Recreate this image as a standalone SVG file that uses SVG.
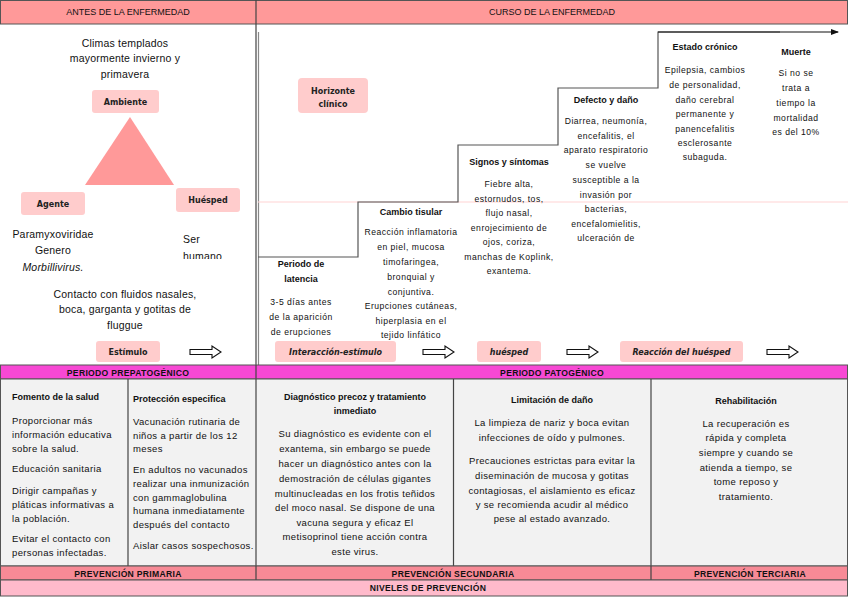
<svg xmlns="http://www.w3.org/2000/svg" width="848" height="599" viewBox="0 0 848 599">
<style>
text{font-family:"Liberation Sans",Arial,sans-serif;fill:#111;}
.hd{font-size:9px;text-anchor:middle;}
.t{font-size:10.5px;text-anchor:middle;letter-spacing:0.2px;}
.s{font-size:8.6px;text-anchor:middle;letter-spacing:0.5px;}
.b{font-size:9px;font-weight:bold;text-anchor:middle;}
.lb{font-family:"DejaVu Sans",Verdana,sans-serif;font-size:8px;font-weight:bold;text-anchor:middle;fill:#222;}
.c{font-size:9.5px;text-anchor:middle;letter-spacing:0.35px;}
.cl{font-size:9.5px;letter-spacing:0.35px;}
.cb{font-size:9px;font-weight:bold;}
.bar{font-size:8.6px;font-weight:bold;text-anchor:middle;letter-spacing:0.3px;}
.box{fill:#FFCCCC;}
.blk{fill:#fff;stroke:#111;stroke-width:1.1;}
.stair{fill:none;stroke:#555;stroke-width:1.2;}
.div{stroke:#444;stroke-width:1.2;}
</style>
<defs>
<path id="blockArrow" d="M0,-2.5 H22 V-6 L31,0 L22,6 V2.5 H0 Z"/>
<marker id="ah" markerWidth="8" markerHeight="8" refX="7" refY="4" orient="auto" markerUnits="userSpaceOnUse"><path d="M0,1 L8,4 L0,7 Z" fill="#111"/></marker>
<clipPath id="clipHum"><rect x="170" y="225" width="80" height="34"/></clipPath>
</defs>
<rect width="848" height="599" fill="#fff"/>

<!-- headers -->
<g id="header">
<rect x="0.5" y="0.5" width="847" height="23.5" fill="#FF9999" stroke="#555" stroke-width="1"/>
<line x1="256" y1="0" x2="256" y2="24" class="div"/>
<text class="hd" x="128" y="15">ANTES DE LA ENFERMEDAD</text>
<text class="hd" x="552" y="15">CURSO DE LA ENFERMEDAD</text>
</g>

<!-- panel borders -->
<g id="panel-lines">
<line x1="256" y1="24" x2="256" y2="365" class="div"/>
<line x1="258.5" y1="32" x2="258.5" y2="365" stroke="#888" stroke-width="1.2"/>
<line x1="258" y1="202" x2="848" y2="202" stroke="#FFD4D4" stroke-width="1.2"/>
</g>

<!-- left panel -->
<g id="ambiente-text">
<text class="t" x="125" y="47">Climas templados</text>
<text class="t" x="125" y="62">mayormente invierno y</text>
<text class="t" x="125" y="78">primavera</text>
</g>
<g id="ambiente">
<rect class="box" x="92" y="90" width="67" height="23" rx="3"/>
<text class="lb" x="125.5" y="105">Ambiente</text>
</g>
<g id="triangulo">
<polygon points="130,117 85,185 174,185" fill="#FF9999"/>
</g>
<g id="agente">
<rect class="box" x="21" y="192" width="64" height="23" rx="3"/>
<text class="lb" x="53" y="207">Agente</text>
</g>
<g id="huesped">
<rect class="box" x="176" y="188" width="64" height="24" rx="3"/>
<text class="lb" x="208" y="203">Huésped</text>
</g>
<g id="agente-text">
<text class="t" x="53" y="238">Paramyxoviridae</text>
<text class="t" x="53" y="254">Genero</text>
<text class="t" x="53" y="271" font-style="italic">Morbillivirus.</text>
</g>
<g id="huesped-text" clip-path="url(#clipHum)">
<text class="t" x="183" y="243" style="text-anchor:start">Ser</text>
<text class="t" x="183" y="260" style="text-anchor:start">humano</text>
</g>
<g id="contacto-text">
<text class="t" x="125" y="298">Contacto con fluidos nasales,</text>
<text class="t" x="125" y="313">boca, garganta y gotitas de</text>
<text class="t" x="125" y="329">fluggue</text>
</g>
<g id="estimulo">
<rect class="box" x="96" y="341" width="64" height="21" rx="3"/>
<text class="lb" x="128" y="355">Estímulo</text>
</g>

<!-- right panel -->
<g id="horizonte">
<rect class="box" x="298" y="78" width="70" height="35" rx="4"/>
<text class="lb" x="333" y="94">Horizonte</text>
<text class="lb" x="333" y="107">clínico</text>
</g>

<g id="connectors">
<path class="stair" d="M258,257 H358 V202 H458 V145 H558 V88 H658 V32 H780"/>
<line x1="658" y1="32" x2="838" y2="32" stroke="#111" stroke-width="1.2" marker-end="url(#ah)"/>
<use href="#blockArrow" class="blk" x="190" y="352"/>
<use href="#blockArrow" class="blk" x="423" y="352"/>
<use href="#blockArrow" class="blk" x="567" y="352"/>
<use href="#blockArrow" class="blk" x="767" y="352"/>
</g>

<g id="latencia">
<text class="b" x="301" y="267">Periodo de</text>
<text class="b" x="301" y="282">latencia</text>
<text class="s" x="301" y="305">3-5 días antes</text>
<text class="s" x="301" y="320">de la aparición</text>
<text class="s" x="301" y="335">de  erupciones</text>
</g>
<g id="cambio-tisular">
<text class="b" x="411" y="215">Cambio tisular</text>
<text class="s" x="411" y="235">Reacción inflamatoria</text>
<text class="s" x="411" y="250">en piel, mucosa</text>
<text class="s" x="411" y="265">timofaringea,</text>
<text class="s" x="411" y="280">bronquial y</text>
<text class="s" x="411" y="295">conjuntiva.</text>
<text class="s" x="411" y="309">Erupciones cutáneas,</text>
<text class="s" x="411" y="324">hiperplasia en el</text>
<text class="s" x="411" y="338">tejido linfático</text>
</g>
<g id="signos">
<text class="b" x="509" y="165">Signos y síntomas</text>
<text class="s" x="509" y="187">Fiebre alta,</text>
<text class="s" x="509" y="202">estornudos, tos,</text>
<text class="s" x="509" y="216">flujo nasal,</text>
<text class="s" x="509" y="231">enrojecimiento de</text>
<text class="s" x="509" y="245">ojos, coriza,</text>
<text class="s" x="509" y="260">manchas de Koplink,</text>
<text class="s" x="509" y="274">exantema.</text>
</g>
<g id="defecto">
<text class="b" x="606" y="103">Defecto y daño</text>
<text class="s" x="606" y="124">Diarrea, neumonía,</text>
<text class="s" x="606" y="139">encefalitis,  el</text>
<text class="s" x="606" y="153">aparato respiratorio</text>
<text class="s" x="606" y="168">se vuelve</text>
<text class="s" x="606" y="183">susceptible a la</text>
<text class="s" x="606" y="198">invasión por</text>
<text class="s" x="606" y="212">bacterias,</text>
<text class="s" x="606" y="227">encefalomielitis,</text>
<text class="s" x="606" y="241">ulceración de</text>
</g>
<g id="cronico">
<text class="b" x="705" y="50">Estado crónico</text>
<text class="s" x="705" y="73">Epilepsia, cambios</text>
<text class="s" x="705" y="88">de personalidad,</text>
<text class="s" x="705" y="103">daño cerebral</text>
<text class="s" x="705" y="117">permanente y</text>
<text class="s" x="705" y="132">panencefalitis</text>
<text class="s" x="705" y="146">esclerosante</text>
<text class="s" x="705" y="160">subaguda.</text>
</g>
<g id="muerte">
<text class="b" x="796" y="55">Muerte</text>
<text class="s" x="796" y="76">Si no se</text>
<text class="s" x="796" y="91">trata a</text>
<text class="s" x="796" y="106">tiempo la</text>
<text class="s" x="796" y="121">mortalidad</text>
<text class="s" x="796" y="135">es del 10%</text>
</g>

<g id="interaccion">
<rect class="box" x="275" y="341" width="121" height="21" rx="3"/>
<text class="lb" x="335.5" y="355" font-style="italic">Interacción-estímulo</text>
</g>
<g id="huesped2">
<rect class="box" x="477" y="341" width="64" height="21" rx="3"/>
<text class="lb" x="509" y="355" font-style="italic">huésped</text>
</g>
<g id="reaccion">
<rect class="box" x="620" y="341" width="123" height="21" rx="3"/>
<text class="lb" x="681.5" y="355" font-style="italic">Reacción del huésped</text>
</g>

<!-- periods bar -->
<g id="periodos">
<rect x="0.5" y="365" width="847" height="14" fill="#F748D4" stroke="#555" stroke-width="1"/>
<line x1="256" y1="365" x2="256" y2="379" class="div"/>
<text class="bar" x="128" y="375.5">PERIODO PREPATOGÉNICO</text>
<text class="bar" x="552" y="375.5">PERIODO PATOGÉNICO</text>
</g>

<!-- content -->
<g id="contenido">
<rect x="0.5" y="379" width="847" height="187" fill="#F2F2F2" stroke="#555" stroke-width="1"/>
<line x1="128" y1="379" x2="128" y2="566" class="div"/>
<line x1="256" y1="379" x2="256" y2="566" class="div"/>
<line x1="453.5" y1="379" x2="453.5" y2="566" class="div"/>
<line x1="651" y1="379" x2="651" y2="580" class="div"/>
</g>
<g id="fomento">
<text class="cb" x="12" y="400">Fomento de la salud</text>
<text class="cl" x="12" y="424">Proporcionar más</text>
<text class="cl" x="12" y="438">información educativa</text>
<text class="cl" x="12" y="452">sobre la salud.</text>
<text class="cl" x="12" y="472">Educación sanitaria</text>
<text class="cl" x="12" y="494">Dirigir campañas y</text>
<text class="cl" x="12" y="508">pláticas informativas a</text>
<text class="cl" x="12" y="522">la población.</text>
<text class="cl" x="12" y="542">Evitar el contacto con</text>
<text class="cl" x="12" y="556">personas infectadas.</text>
</g>
<g id="proteccion">
<text class="cb" x="133" y="402">Protección especifica</text>
<text class="cl" x="133" y="425">Vacunación rutinaria de</text>
<text class="cl" x="133" y="439">niños a partir de los 12</text>
<text class="cl" x="133" y="452">meses</text>
<text class="cl" x="133" y="473">En adultos no vacunados</text>
<text class="cl" x="133" y="487">realizar una inmunización</text>
<text class="cl" x="133" y="501">con gammaglobulina</text>
<text class="cl" x="133" y="514">humana inmediatamente</text>
<text class="cl" x="133" y="528">después del contacto</text>
<text class="cl" x="133" y="549">Aislar casos sospechosos.</text>
</g>
<g id="diagnostico">
<text class="b" x="355" y="400">Diagnóstico precoz y tratamiento</text>
<text class="b" x="355" y="414">inmediato</text>
<text class="c" x="355" y="437">Su diagnóstico es evidente con el</text>
<text class="c" x="355" y="452">exantema, sin embargo se puede</text>
<text class="c" x="355" y="467">hacer un diagnóstico antes con la</text>
<text class="c" x="355" y="482">demostración de células gigantes</text>
<text class="c" x="355" y="497">multinucleadas en los frotis teñidos</text>
<text class="c" x="355" y="511">del moco nasal. Se dispone de una</text>
<text class="c" x="355" y="526">vacuna segura y eficaz El</text>
<text class="c" x="355" y="540">metisoprinol tiene acción contra</text>
<text class="c" x="355" y="555">este virus.</text>
</g>
<g id="limitacion">
<text class="b" x="552" y="403">Limitación de daño</text>
<text class="c" x="552" y="426">La limpieza de nariz y boca evitan</text>
<text class="c" x="552" y="441">infecciones de oído y pulmones.</text>
<text class="c" x="552" y="464">Precauciones estrictas para evitar la</text>
<text class="c" x="552" y="479">diseminación de mucosa y gotitas</text>
<text class="c" x="552" y="494">contagiosas, el aislamiento es eficaz</text>
<text class="c" x="552" y="508">y se recomienda acudir al médico</text>
<text class="c" x="552" y="522">pese al estado avanzado.</text>
</g>
<g id="rehabilitacion">
<text class="b" x="746" y="404">Rehabilitación</text>
<text class="c" x="746" y="427">La recuperación es</text>
<text class="c" x="746" y="441">rápida y completa</text>
<text class="c" x="746" y="456">siempre y cuando se</text>
<text class="c" x="746" y="471">atienda a tiempo, se</text>
<text class="c" x="746" y="485">tome reposo y</text>
<text class="c" x="746" y="500">tratamiento.</text>
</g>

<!-- prevention bars -->
<g id="prevencion">
<rect x="0.5" y="566" width="847" height="14" fill="#F78A96" stroke="#555" stroke-width="1"/>
<line x1="256" y1="566" x2="256" y2="580" class="div"/>
<line x1="651" y1="566" x2="651" y2="580" class="div"/>
<text class="bar" x="128" y="576.5">PREVENCIÓN PRIMARIA</text>
<text class="bar" x="453" y="576.5">PREVENCIÓN SECUNDARIA</text>
<text class="bar" x="750" y="576.5">PREVENCIÓN TERCIARIA</text>
</g>
<g id="niveles">
<rect x="0.5" y="580" width="847" height="16" fill="#FFBACB" stroke="#555" stroke-width="1"/>
<text class="bar" x="428" y="591">NIVELES DE PREVENCIÓN</text>
</g>
</svg>
